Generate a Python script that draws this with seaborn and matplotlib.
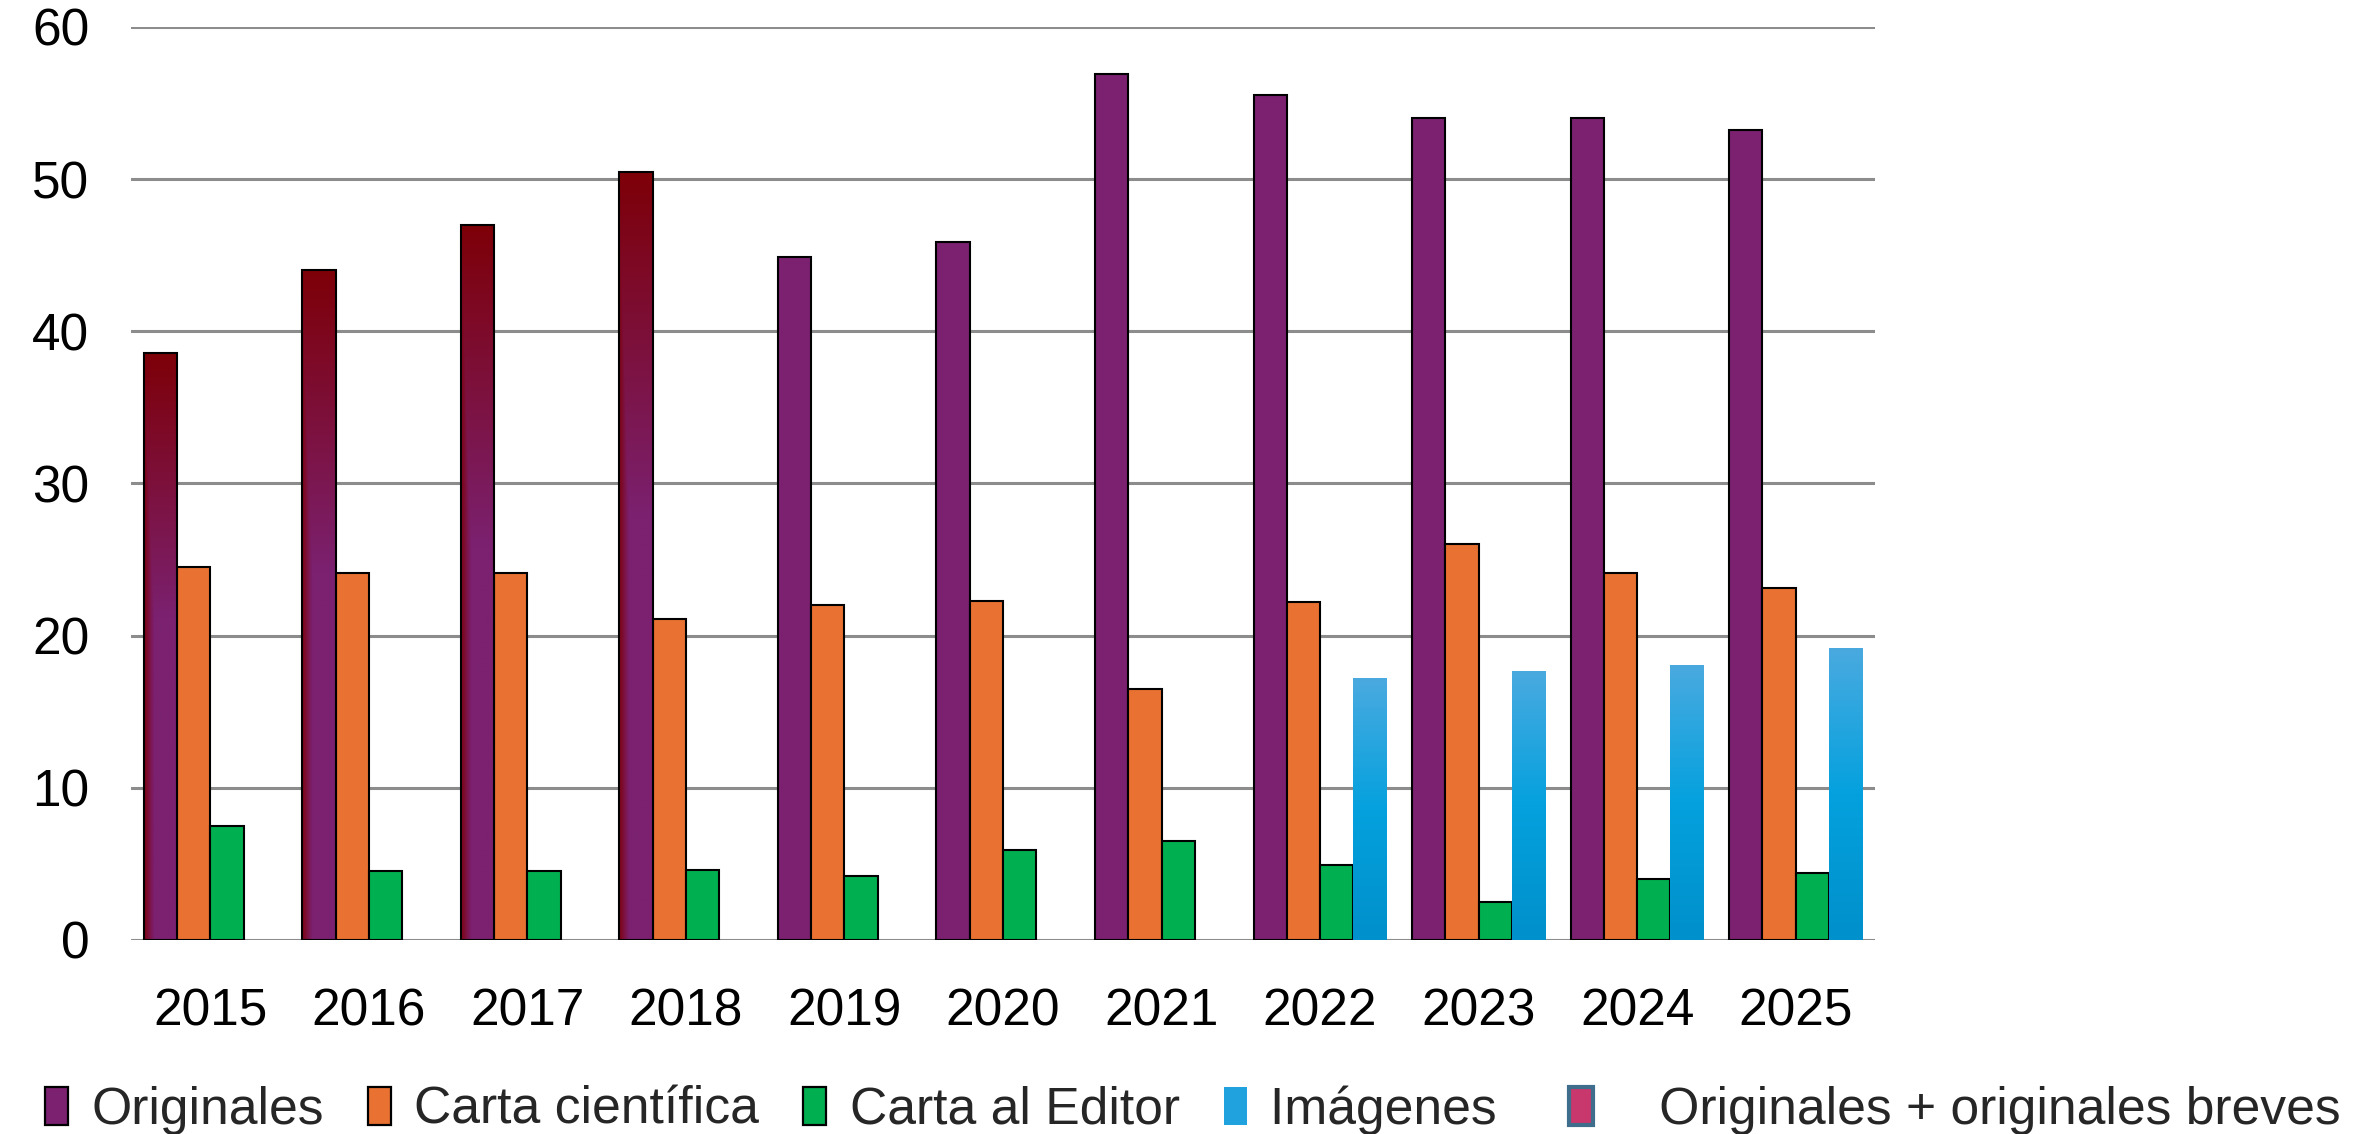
import numpy as np
import pandas as pd
import matplotlib
matplotlib.use("Agg")
import matplotlib.pyplot as plt
from matplotlib.colors import to_rgb
from matplotlib.patches import Patch
import seaborn as sns

# data
years = ['2015', '2016', '2017', '2018', '2019', '2020',
         '2021', '2022', '2023', '2024', '2025']
originales = [38.6, 44.0, 47.0, 50.5, 44.9, 45.9, 56.9, 55.5, 54.0, 54.0, 53.2]
carta_cientifica = [24.5, 24.1, 24.1, 21.1, 22.0, 22.3, 16.5, 22.2, 26.0, 24.1, 23.1]
carta_editor = [7.5, 4.5, 4.5, 4.6, 4.2, 5.9, 6.5, 4.9, 2.5, 4.0, 4.4]
imagenes = [np.nan] * 7 + [17.2, 17.7, 18.1, 19.2]
# years where the first bar is "Originales + originales breves"
breves_years = ['2015', '2016', '2017', '2018']

series = ['Originales', 'Carta científica', 'Carta al Editor', 'Imágenes']
colors = ['#7B2170', '#E97132', '#00B050', '#0AA0DC']
legend_labels = ['Originales', 'Carta científica', 'Carta al Editor',
                 'Imágenes  ', '   Originales + originales breves']


def gradient_fill(ax, patch, img):
    x, w, h = patch.get_x(), patch.get_width(), patch.get_height()
    im = ax.imshow(img, extent=[x, x + w, 0, h], origin='lower', aspect='auto',
                   interpolation='bilinear', zorder=patch.get_zorder())
    im.set_clip_path(patch)
    patch.set_facecolor('none')
    patch.set_zorder(patch.get_zorder() + 0.1)


def main():
    df = pd.DataFrame({
        'Año': np.repeat(years, len(series)),
        'Tipo': series * len(years),
        'Valor': np.column_stack([originales, carta_cientifica,
                                  carta_editor, imagenes]).ravel(),
    })

    sns.set_style('white')
    plt.rcParams['font.family'] = ['Liberation Sans', 'DejaVu Sans']

    fig = plt.figure(figsize=(11.81, 5.67), dpi=200)
    ax = fig.add_axes([0.0555, 0.1711, 0.7383, 0.8051])

    sns.barplot(data=df, x='Año', y='Valor', hue='Tipo', hue_order=series,
                order=years, palette=colors, saturation=1, width=0.84,
                errorbar=None, edgecolor='black', linewidth=0.75,
                legend=False, ax=ax)

    purple = np.array(to_rgb('#7B2170'))
    red = np.array(to_rgb('#7E0008'))
    b_top = np.array(to_rgb('#4AAAE0'))
    b_mid = np.array(to_rgb('#04A1DE'))
    b_bot = np.array(to_rgb('#0090CB'))

    for level, cont in zip(series, ax.containers):
        for patch in cont.patches:
            if np.isnan(patch.get_height()) or patch.get_height() == 0:
                continue
            idx = min(max(int(round(patch.get_x() + 0.42)), 0), len(years) - 1)
            if level == 'Originales' and years[idx] in breves_years:
                t = np.linspace(0, 1, 200)[:, None]
                s = np.linspace(0, 1, 40)[None, :]
                v = np.clip((t - 0.55) / 0.45, 0, 1)
                hl = np.clip(1 - s / 0.3, 0, 1) * 0.9
                r = np.maximum(v, hl)[..., None]
                img = purple * (1 - r) + red * r
                gradient_fill(ax, patch, img)
            elif level == 'Imágenes':
                t = np.linspace(0, 1, 200)[:, None, None]
                low = b_bot + (b_mid - b_bot) * np.clip(t / 0.5, 0, 1)
                img = np.where(t < 0.5, low,
                               b_mid + (b_top - b_mid) * np.clip((t - 0.5) / 0.5, 0, 1))
                img = np.repeat(img, 20, axis=1)
                patch.set_edgecolor('none')
                gradient_fill(ax, patch, img)

    ax.set_xlim(-0.5, len(years) - 0.5)
    ax.set_ylim(0, 60)
    ax.set_yticks(range(0, 61, 10))
    ax.yaxis.grid(True, color='#8C8C8C', linewidth=1.1)
    ax.xaxis.grid(False)
    ax.set_axisbelow(True)
    for sp in ax.spines.values():
        sp.set_visible(False)
    ax.set_xlabel('')
    ax.set_ylabel('')
    ax.tick_params(axis='both', length=0, labelsize=18.5, labelcolor='black')
    ax.tick_params(axis='y', pad=15)
    ax.tick_params(axis='x', pad=17)

    handles = [Patch(facecolor=c, edgecolor='black', linewidth=0.8) for c in colors[:3]]
    handles.append(Patch(facecolor='#1FA2DE', edgecolor='none'))
    handles.append(Patch(facecolor='#C9386C', edgecolor='#3F6E8C', linewidth=1.5))
    fig.legend(handles, legend_labels, loc='center left',
               bbox_to_anchor=(0.019, 0.021), ncol=5, frameon=False,
               fontsize=18.6, handlelength=0.45, handleheight=0.75,
               handletextpad=0.45, columnspacing=0.85, borderpad=0,
               borderaxespad=0)

    fig.savefig('out.png', dpi=200)


if __name__ == "__main__":
    main()
